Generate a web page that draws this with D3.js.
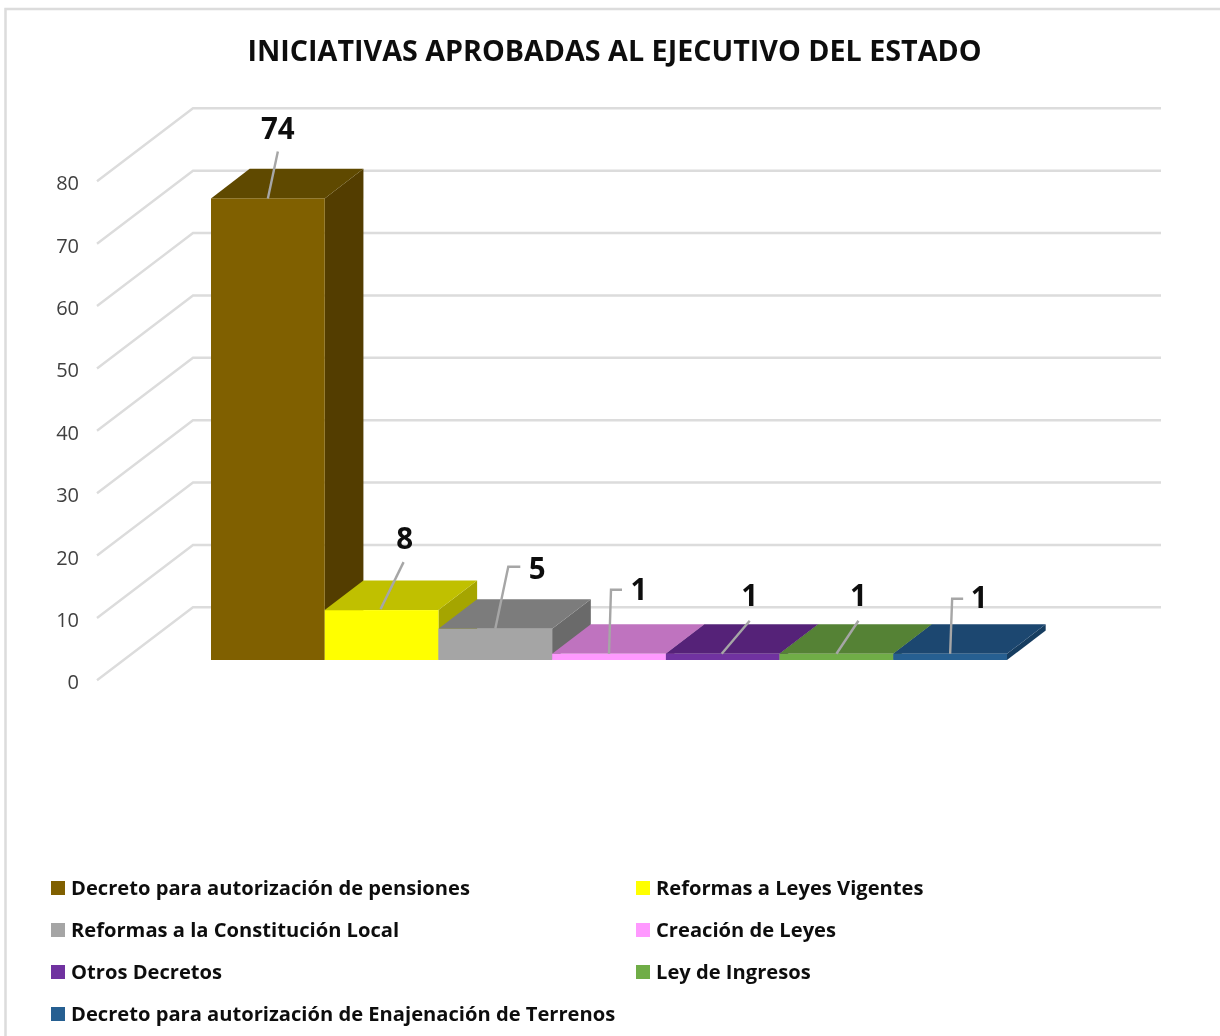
<!DOCTYPE html>
<html><head><meta charset="utf-8">
<script src="https://cdn.jsdelivr.net/npm/d3@7/dist/d3.min.js"></script>
<style>
html,body{margin:0;padding:0;background:#fff}
svg{display:block}
text{font-family:"Open Sans",sans-serif}
</style></head><body>
<svg id="c" width="1220" height="1036"></svg>
<script>
const categories = ["Decreto para autorización de pensiones","Reformas a Leyes Vigentes","Reformas a la Constitución Local","Creación de Leyes","Otros Decretos","Ley de Ingresos","Decreto para autorización de Enajenación de Terrenos"];
const values = [74,8,5,1,1,1,1];
const frontColors = ["#806000","#ffff00","#a5a5a5","#ff99ff","#7030a0","#70ad47","#255e91"];
const topColors = ["#5f4800","#c0c000","#7c7c7c","#bf73bf","#542478","#548235","#1c4770"];
const sideColors = ["#523e00","#a5a500","#6a6a6a","#a463a4","#481f67","#48702e","#183d60"];
const yTicks = [0,10,20,30,40,50,60,70,80];
const title = "INICIATIVAS APROBADAS AL EJECUTIVO DEL ESTADO";

// layout of the leader lines, relative to the bar's top-front centre
const leaderOffsets = [
  [[0,0],[10,-47]],
  [[-1,-1],[22,-48]],
  [[0,0],[13,-62],[25,-62]],
  [[0,0],[2,-64],[13,-64]],
  [[-1,0],[27,-33]],
  [[0,0],[22,-33]],
  [[0,0],[2,-55],[13,-55]]
];
const labelOffsets = [[10,-70],[23,-72],[42,-61],[30,-65],[27,-59],[22,-59],[29,-57]];

const svg = d3.select("#c");
const defs = svg.append("defs");
defs.append("filter").attr("id","soft").attr("x",0).attr("y",0).attr("width",1).attr("height",1)
  .append("feGaussianBlur").attr("stdDeviation",0.45);
const root = svg.append("g").attr("filter","url(#soft)");
root.append("rect").attr("width",1220).attr("height",1036).attr("fill","#fff");

const y = d3.scaleLinear().domain([0,80]).range([660,161]);
const x = d3.scaleBand().domain(categories).range([211,1007]);
const depthX = 38.7, depthY = 29.6;
const wallDX = 96, wallDY = 73;

root.append("path").attr("fill","none").attr("stroke","#dcdcdc").attr("stroke-width",2.5)
  .attr("d",d3.line()([[5.5,1036],[5.5,9],[1220,9]]));

root.append("text").attr("x",614.5).attr("y",61).attr("text-anchor","middle")
  .attr("font-size",28.7).attr("font-weight",700).attr("fill","#111").text(title);

// wall and floor gridlines
const yFront = v => y(v) + 20.3;
const yBack = v => yFront(v) - wallDY;
const grid = root.append("g").attr("fill","none").attr("stroke","#dcdcdc").attr("stroke-width",2.4);
grid.selectAll("path").data(yTicks).join("path")
  .attr("d", v => d3.line()([[97,yFront(v)],[97+wallDX,yBack(v)],[1161,yBack(v)]]));

root.append("g").selectAll("text").data(yTicks).join("text")
  .attr("x",79).attr("y",v=>yFront(v)+9).attr("text-anchor","end")
  .attr("font-size",20).attr("fill","#404040").text(d=>d);

// bars, drawn left to right with the faces of the 3D box
const line = d3.line();
const bars = root.append("g").selectAll("g").data(categories).join("g");
bars.append("path").attr("fill",(d,i)=>sideColors[i]).attr("d",(d,i)=>{
  const r=x(d)+x.bandwidth(), t=y(values[i]), b=y(0);
  return line([[r,t],[r+depthX,t-depthY],[r+depthX,b-depthY],[r,b]])+"Z";
});
bars.append("path").attr("fill",(d,i)=>topColors[i]).attr("d",(d,i)=>{
  const l=x(d), r=l+x.bandwidth(), t=y(values[i]);
  return line([[l,t],[l+depthX,t-depthY],[r+depthX,t-depthY],[r,t]])+"Z";
});
bars.append("rect").attr("fill",(d,i)=>frontColors[i])
  .attr("x",d=>x(d)).attr("width",x.bandwidth())
  .attr("y",(d,i)=>y(values[i])).attr("height",(d,i)=>y(0)-y(values[i]));

// data labels and leaders
const anchor = i => [x(categories[i])+x.bandwidth()/2, y(values[i])];
root.append("g").attr("fill","none").attr("stroke","#a6a6a6").attr("stroke-width",2.4)
  .selectAll("path").data(values).join("path")
  .attr("d",(v,i)=>{const [a,b]=anchor(i);return line(leaderOffsets[i].map(p=>[a+p[0],b+p[1]]));});
root.append("g").selectAll("text").data(values).join("text")
  .attr("x",(v,i)=>anchor(i)[0]+labelOffsets[i][0])
  .attr("y",(v,i)=>anchor(i)[1]+labelOffsets[i][1]+11)
  .attr("text-anchor","middle").attr("font-size",29.5).attr("font-weight",700).attr("fill","#111").text(d=>d);

// legend
const legendX = d3.scalePoint().domain([0,1]).range([51,636]);
const legendY = d3.scalePoint().domain(d3.range(4)).range([888,1014]);
const lg = root.append("g").selectAll("g").data(categories).join("g")
  .attr("transform",(d,i)=>`translate(${legendX(i%2===0||i===6?0:1)},${legendY(Math.floor(i/2))})`);
lg.append("rect").attr("y",-7).attr("width",14).attr("height",14).attr("fill",(d,i)=>frontColors[i]);
lg.append("text").attr("x",20).attr("y",7).attr("font-size",20.15).attr("font-weight",700).attr("fill","#111").text(d=>d);
</script>
</body></html>
